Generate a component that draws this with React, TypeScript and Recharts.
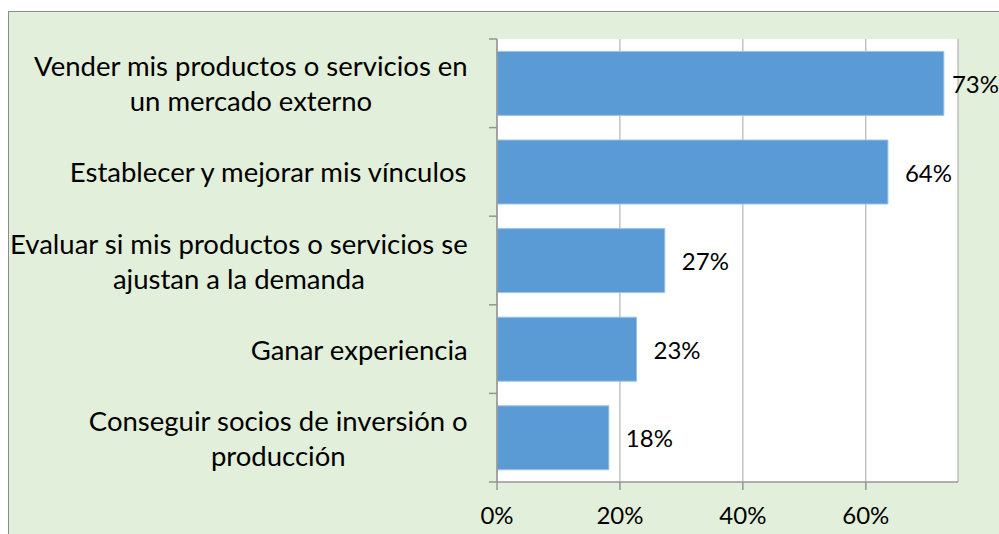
import React from 'react';
import { BarChart, Bar, XAxis, YAxis, CartesianGrid, LabelList } from 'recharts';

const categories = [
  'Vender mis productos o servicios en\nun mercado externo',
  'Establecer y mejorar mis vínculos',
  'Evaluar si mis productos o servicios se\najustan a la demanda',
  'Ganar experiencia',
  'Conseguir socios de inversión o\nproducción',
];
const values = [0.727, 0.636, 0.273, 0.227, 0.182];
const xTicks = [0, 0.2, 0.4, 0.6];
const xMax = 0.75;

const data = categories.map((name, i) => ({ name, value: values[i] }));

const FONT_FAMILY = 'Lato';
const CAT_SIZE = 27.5;
const NUM_SIZE = 24;
const CHART_W = 990;
const CHART_H = 522;
const AXIS_COLOR = '#969696';

let ctx: CanvasRenderingContext2D | null = null;
function textWidth(s: string, size: number): number {
  if (!ctx && typeof document !== 'undefined') {
    ctx = document.createElement('canvas').getContext('2d');
  }
  if (!ctx) return s.length * size * 0.5;
  ctx.font = `${size}px ${FONT_FAMILY}`;
  return ctx.measureText(s).width;
}

const fmt = (v: number) => `${Math.round(v * 100)}%`;

const CategoryTick = (props: any) => {
  const { x, y, payload, index, visibleTicksCount } = props;
  const lines: string[] = String(payload.value).split('\n');
  const half = payload.offset || 44;
  const blockW = Math.max(...lines.map((l) => textWidth(l, CAT_SIZE)));
  const cx = x - 29 - blockW / 2;
  const lh = 35;
  const y0 = y - ((lines.length - 1) * lh) / 2;
  const isLast = index === (visibleTicksCount ?? categories.length) - 1;
  return (
    <g>
      <line x1={x - 8} x2={x} y1={y - half} y2={y - half} stroke={AXIS_COLOR} strokeWidth={1.5} />
      {isLast && (
        <line x1={x - 8} x2={x} y1={y + half} y2={y + half} stroke={AXIS_COLOR} strokeWidth={1.5} />
      )}
      {lines.map((l, i) => (
        <text
          key={i}
          x={cx}
          y={y0 + i * lh}
          textAnchor="middle"
          dominantBaseline="central"
          fontFamily={FONT_FAMILY}
          fontSize={CAT_SIZE}
          fill="#000"
        >
          {l}
        </text>
      ))}
    </g>
  );
};

const ValueLabel = (props: any) => {
  const { x, y, width, height, value } = props;
  const s = fmt(value);
  const w = textWidth(s, NUM_SIZE);
  const lx = Math.min(x + width + 17, CHART_W - w);
  return (
    <text
      x={lx}
      y={y + height / 2}
      textAnchor="start"
      dominantBaseline="central"
      fontFamily={FONT_FAMILY}
      fontSize={NUM_SIZE}
      fill="#000"
    >
      {s}
    </text>
  );
};

export default function App() {
  return (
    <div
      style={{
        position: 'fixed',
        left: 8,
        top: 11,
        width: 991,
        height: 523,
        boxSizing: 'border-box',
        background: '#e2efda',
        borderLeft: '1px solid #8c8c8c',
        borderTop: '1px solid #8c8c8c',
        overflow: 'hidden',
      }}
    >
      <BarChart
        width={CHART_W}
        height={CHART_H}
        data={data}
        layout="vertical"
        margin={{ top: 27, right: 41, left: 0, bottom: 0 }}
        barCategoryGap="14%"
      >
        <CartesianGrid horizontal={false} stroke="#a6a6a6" fill="#ffffff" strokeWidth={1} />
        <XAxis
          type="number"
          domain={[0, xMax]}
          ticks={xTicks}
          tickFormatter={fmt}
          height={52}
          axisLine={{ stroke: AXIS_COLOR, strokeWidth: 1.5 }}
          tickLine={{ stroke: AXIS_COLOR, strokeWidth: 1.5 }}
          tickSize={8}
          tickMargin={17}
          tick={{ fontFamily: FONT_FAMILY, fontSize: NUM_SIZE, fill: '#000' }}
          allowDataOverflow
        />
        <YAxis
          type="category"
          dataKey="name"
          width={488}
          interval={0}
          axisLine={{ stroke: AXIS_COLOR, strokeWidth: 1.5 }}
          tickLine={false}
          tickSize={0}
          tickMargin={0}
          tick={<CategoryTick />}
        />
        <Bar dataKey="value" fill="#5b9bd5" stroke="#9dc3e6" strokeWidth={1} isAnimationActive={false}>
          <LabelList dataKey="value" content={<ValueLabel />} />
        </Bar>
      </BarChart>
    </div>
  );
}
